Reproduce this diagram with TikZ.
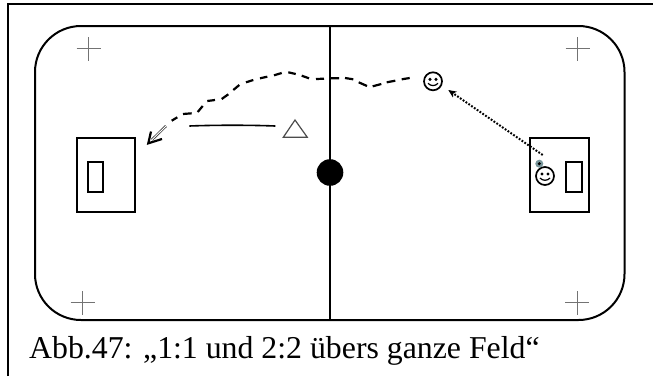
\documentclass[tikz,border=0pt]{standalone}
\usepackage{fontspec}
\setmainfont{Liberation Serif}
\usetikzlibrary{arrows.meta,calc}
\definecolor{balltint}{RGB}{120,150,155}
\tikzset{
  px/.style={x=1pt,y=-1pt},
  frameline/.style={draw=black,line width=2pt},
  fieldline/.style={draw=black,line width=2pt},
  crossmark/.style={draw=black!55,line width=1.1pt},
  goalbox/.style={draw=black,line width=2pt},
  face/.style={circle,draw=black,line width=1.7pt,minimum size=18pt,inner sep=0pt,fill=white},
  rundash/.style={draw=black,line width=2.2pt},
}
\newcommand{\smiley}[2]{%
  \node[face] (#2) at (#1) {};
  \fill ([xshift=-3pt,yshift=2pt]#2.center) circle (1.7pt);
  \fill ([xshift=3pt,yshift=2pt]#2.center) circle (1.7pt);
  \draw[line width=1.2pt] ([xshift=-5pt,yshift=-2pt]#2.center) .. controls ([xshift=-2.5pt,yshift=-5pt]#2.center) and ([xshift=2.5pt,yshift=-5pt]#2.center) .. ([xshift=5pt,yshift=-2pt]#2.center);
}
\newcommand{\crossm}[1]{%
  \draw[crossmark] ([xshift=-12pt]#1) -- ([xshift=12pt]#1);
  \draw[crossmark] ([yshift=-12pt]#1) -- ([yshift=12pt]#1);
}
\begin{document}
\begin{tikzpicture}[px]
\useasboundingbox (0,0) rectangle (653,376);
\fill[white] (0,0) rectangle (653,376);
\draw[frameline] (8,376) -- (8,3.5) -- (653,3.5);
\draw[fieldline,rounded corners=46pt] (35,26) rectangle (624.5,320);
\draw[line width=2pt] (330.3,26) -- (330.3,320);
\fill (330,172.5) circle (13.3pt);
\crossm{88.7,48.7}
\crossm{577.5,48.7}
\crossm{82.7,302.7}
\crossm{577.3,302.7}
\draw[goalbox] (76.7,138.3) rectangle (135,211.7);
\draw[goalbox] (88,161.5) rectangle (103,191.7);
\draw[goalbox] (530,138.3) rectangle (589,211.7);
\draw[goalbox] (565.5,161.5) rectangle (581.5,191.7);
\smiley{433,81.3}{faceA}
\smiley{545,176}{faceB}
\fill[balltint] (539.3,163.7) circle (4pt);
\fill (539.3,163.7) circle (1.7pt);
\coordinate (passend) at (448.3,90);
\coordinate (passstart) at (542.7,155);
\draw[line width=2pt,dash pattern=on 1.8pt off 1.6pt,shorten >=3pt] (passstart) -- (passend);
\draw[line width=1.2pt,-{Stealth[length=8pt,width=7pt,inset=2pt]}] ($(passend)!6pt!(passstart)$) -- (passend);
\draw[draw=black!70,line width=1.2pt] (283.3,137.3) -- (295,120) -- (307.3,137.3) -- cycle;
\draw[line width=1.6pt] (189.3,126) .. controls (215,125) and (250,125) .. (275.3,126);
\draw[rundash]
  (401.7,79.3)--(409.7,78)
  (386.7,82.3)--(395.3,80.7)
  (372.7,86.3)--(381.3,84)
  (358.7,82.3)--(367,86)
  (345,78)--(353.3,79.3)
  (330.7,78.3)--(339,78.3)
  (316,79)--(324,78.7)
  (301.7,75.7)--(309,78.3)
  (288.3,72.3)--(295.7,74)
  (274,75.3)--(281.7,73)
  (260,78.3)--(267.3,76.7)
  (246,82.3)--(253.3,80)
  (233.3,90)--(239.3,85)
  (221.7,99)--(228.3,94.3)
  (207.3,101)--(215,100)
  (197.7,112)--(202.7,106)
  (183,114)--(191.7,113.3)
  (171.7,120.7)--(177.3,117.3);
\coordinate (runhead) at (148.3,143.3);
\coordinate (runtail) at (166,126);
\draw[black!75,line width=0.8pt,double=white,double distance=0.9pt] (runtail) -- ($(runhead)!5pt!(runtail)$);
\draw[line width=2.2pt,line join=miter] (151,131.5) -- (runhead) -- (162,139);
\node[anchor=base west,font=\fontsize{31.8pt}{36pt}\selectfont,inner sep=0pt] (cap) at (29,358) {Abb.47: „1:1 und 2:2 übers ganze Feld“};
\end{tikzpicture}
\end{document}
